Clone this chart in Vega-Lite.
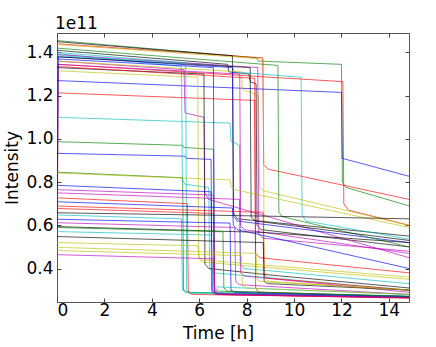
{
"$schema":"https://vega.github.io/schema/vega-lite/v6.json",
"width":352,"height":269,
"autosize":{"type":"none"},
"padding":{"left":57,"top":33,"right":27,"bottom":45},
"title":{"text":"1e11","anchor":"start","frame":"group","fontSize":17,"fontWeight":"normal","font":"DejaVu Sans","color":"#000","offset":1,"baseline":"alphabetic","dx":-2,"dy":14},
"config":{"view":{"stroke":"#555"},"font":"DejaVu Sans"},
"data":{"values":[
{"run":1,"color":"g","time":0,"intensity":1.455e11},{"run":1,"color":"g","time":8.4,"intensity":1.375e11},{"run":1,"color":"g","time":8.5,"intensity":1.36e11},{"run":1,"color":"g","time":12.0,"intensity":1.345e11},{"run":1,"color":"g","time":12.04,"intensity":0.80e11},{"run":1,"color":"g","time":12.2,"intensity":0.775e11},{"run":1,"color":"g","time":14.85,"intensity":0.69e11},
{"run":2,"color":"r","time":0,"intensity":1.44e11},{"run":2,"color":"r","time":8.68,"intensity":1.375e11},{"run":2,"color":"r","time":8.72,"intensity":0.88e11},{"run":2,"color":"r","time":8.9,"intensity":0.86e11},{"run":2,"color":"r","time":14.85,"intensity":0.72e11},
{"run":3,"color":"y","time":0,"intensity":1.437e11},{"run":3,"color":"y","time":8.7,"intensity":1.37e11},{"run":3,"color":"y","time":8.74,"intensity":0.36e11},{"run":3,"color":"y","time":8.9,"intensity":0.34e11},{"run":3,"color":"y","time":14.85,"intensity":0.30e11},
{"run":4,"color":"k","time":0,"intensity":1.41e11},{"run":4,"color":"k","time":7.2,"intensity":1.345e11},{"run":4,"color":"k","time":7.25,"intensity":1.31e11},{"run":4,"color":"k","time":8.1,"intensity":1.30e11},{"run":4,"color":"k","time":8.15,"intensity":1.265e11},{"run":4,"color":"k","time":8.4,"intensity":1.255e11},{"run":4,"color":"k","time":8.44,"intensity":0.60e11},{"run":4,"color":"k","time":8.6,"intensity":0.58e11},{"run":4,"color":"k","time":14.85,"intensity":0.50e11},
{"run":5,"color":"k","time":0,"intensity":1.45e11},{"run":5,"color":"k","time":7.4,"intensity":1.385e11},{"run":5,"color":"k","time":7.44,"intensity":0.66e11},{"run":5,"color":"k","time":7.6,"intensity":0.63e11},{"run":5,"color":"k","time":14.85,"intensity":0.55e11},
{"run":6,"color":"c","time":0,"intensity":1.40e11},{"run":6,"color":"c","time":7.4,"intensity":1.335e11},{"run":6,"color":"c","time":7.45,"intensity":1.31e11},{"run":6,"color":"c","time":10.3,"intensity":1.285e11},{"run":6,"color":"c","time":10.34,"intensity":0.65e11},{"run":6,"color":"c","time":10.5,"intensity":0.62e11},{"run":6,"color":"c","time":14.85,"intensity":0.536e11},
{"run":7,"color":"r","time":0,"intensity":0.46e11},{"run":7,"color":"r","time":0.06,"intensity":1.345e11},{"run":7,"color":"r","time":12.06,"intensity":1.265e11},{"run":7,"color":"r","time":12.1,"intensity":0.70e11},{"run":7,"color":"r","time":12.3,"intensity":0.67e11},{"run":7,"color":"r","time":14.85,"intensity":0.60e11},
{"run":8,"color":"b","time":0,"intensity":1.27e11},{"run":8,"color":"b","time":12.0,"intensity":1.215e11},{"run":8,"color":"b","time":12.03,"intensity":0.91e11},{"run":8,"color":"b","time":14.85,"intensity":0.827e11},
{"run":9,"color":"r","time":0,"intensity":1.213e11},{"run":9,"color":"r","time":8.34,"intensity":1.178e11},{"run":9,"color":"r","time":8.38,"intensity":0.47e11},{"run":9,"color":"r","time":8.55,"intensity":0.45e11},{"run":9,"color":"r","time":14.85,"intensity":0.38e11},
{"run":10,"color":"c","time":0,"intensity":1.10e11},{"run":10,"color":"c","time":7.3,"intensity":1.073e11},{"run":10,"color":"c","time":7.34,"intensity":0.99e11},{"run":10,"color":"c","time":7.7,"intensity":0.97e11},{"run":10,"color":"c","time":7.74,"intensity":0.42e11},{"run":10,"color":"c","time":7.9,"intensity":0.40e11},{"run":10,"color":"c","time":14.85,"intensity":0.33e11},
{"run":11,"color":"g","time":0,"intensity":0.987e11},{"run":11,"color":"g","time":5.3,"intensity":0.97e11},{"run":11,"color":"g","time":5.35,"intensity":0.96e11},{"run":11,"color":"g","time":6.6,"intensity":0.952e11},{"run":11,"color":"g","time":6.65,"intensity":0.31e11},{"run":11,"color":"g","time":6.8,"intensity":0.295e11},{"run":11,"color":"g","time":14.85,"intensity":0.272e11},
{"run":12,"color":"b","time":0,"intensity":0.933e11},{"run":12,"color":"b","time":5.4,"intensity":0.92e11},{"run":12,"color":"b","time":5.45,"intensity":0.91e11},{"run":12,"color":"b","time":6.5,"intensity":0.905e11},{"run":12,"color":"b","time":6.54,"intensity":0.30e11},{"run":12,"color":"b","time":6.7,"intensity":0.285e11},{"run":12,"color":"b","time":14.85,"intensity":0.268e11},
{"run":13,"color":"c","time":0,"intensity":1.395e11},{"run":13,"color":"c","time":5.25,"intensity":1.335e11},{"run":13,"color":"c","time":5.29,"intensity":0.81e11},{"run":13,"color":"c","time":5.4,"intensity":0.79e11},{"run":13,"color":"c","time":6.4,"intensity":0.775e11},{"run":13,"color":"c","time":6.44,"intensity":0.40e11},{"run":13,"color":"c","time":6.6,"intensity":0.38e11},{"run":13,"color":"c","time":14.85,"intensity":0.30e11},
{"run":14,"color":"m","time":0,"intensity":1.36e11},{"run":14,"color":"m","time":5.36,"intensity":1.32e11},{"run":14,"color":"m","time":5.4,"intensity":1.12e11},{"run":14,"color":"m","time":6.2,"intensity":1.10e11},{"run":14,"color":"m","time":6.24,"intensity":0.75e11},{"run":14,"color":"m","time":6.4,"intensity":0.72e11},{"run":14,"color":"m","time":14.85,"intensity":0.45e11},
{"run":15,"color":"y","time":0,"intensity":1.315e11},{"run":15,"color":"y","time":5.94,"intensity":1.285e11},{"run":15,"color":"y","time":5.98,"intensity":0.45e11},{"run":15,"color":"y","time":6.1,"intensity":0.43e11},{"run":15,"color":"y","time":14.85,"intensity":0.35e11},
{"run":16,"color":"k","time":0,"intensity":1.33e11},{"run":16,"color":"k","time":6.2,"intensity":1.30e11},{"run":16,"color":"k","time":6.24,"intensity":0.42e11},{"run":16,"color":"k","time":6.4,"intensity":0.40e11},{"run":16,"color":"k","time":9.0,"intensity":0.37e11},{"run":16,"color":"k","time":14.85,"intensity":0.31e11},
{"run":17,"color":"m","time":0,"intensity":1.345e11},{"run":17,"color":"m","time":7.71,"intensity":1.30e11},{"run":17,"color":"m","time":7.75,"intensity":0.60e11},{"run":17,"color":"m","time":7.9,"intensity":0.58e11},{"run":17,"color":"m","time":14.85,"intensity":0.47e11},
{"run":18,"color":"b","time":0,"intensity":0.56e11},{"run":18,"color":"b","time":0.06,"intensity":1.38e11},{"run":18,"color":"b","time":7.41,"intensity":1.33e11},{"run":18,"color":"b","time":7.45,"intensity":0.64e11},{"run":18,"color":"b","time":7.6,"intensity":0.62e11},{"run":18,"color":"b","time":14.85,"intensity":0.52e11},
{"run":19,"color":"y","time":0,"intensity":1.36e11},{"run":19,"color":"y","time":7.78,"intensity":1.31e11},{"run":19,"color":"y","time":7.82,"intensity":1.23e11},{"run":19,"color":"y","time":8.5,"intensity":1.20e11},{"run":19,"color":"y","time":8.54,"intensity":0.78e11},{"run":19,"color":"y","time":8.7,"intensity":0.76e11},{"run":19,"color":"y","time":14.85,"intensity":0.60e11},
{"run":20,"color":"g","time":0,"intensity":1.42e11},{"run":20,"color":"g","time":9.32,"intensity":1.34e11},{"run":20,"color":"g","time":9.36,"intensity":0.66e11},{"run":20,"color":"g","time":9.5,"intensity":0.64e11},{"run":20,"color":"g","time":14.85,"intensity":0.50e11},
{"run":21,"color":"m","time":0,"intensity":1.39e11},{"run":21,"color":"m","time":8.47,"intensity":1.33e11},{"run":21,"color":"m","time":8.51,"intensity":0.56e11},{"run":21,"color":"m","time":8.7,"intensity":0.54e11},{"run":21,"color":"m","time":14.85,"intensity":0.48e11},
{"run":22,"color":"r","time":0,"intensity":1.335e11},{"run":22,"color":"r","time":8.34,"intensity":1.28e11},{"run":22,"color":"r","time":8.38,"intensity":0.31e11},{"run":22,"color":"r","time":8.5,"intensity":0.29e11},{"run":22,"color":"r","time":14.85,"intensity":0.27e11},
{"run":23,"color":"k","time":0,"intensity":1.38e11},{"run":23,"color":"k","time":8.15,"intensity":1.33e11},{"run":23,"color":"k","time":8.19,"intensity":0.64e11},{"run":23,"color":"k","time":8.35,"intensity":0.62e11},{"run":23,"color":"k","time":14.85,"intensity":0.53e11},
{"run":24,"color":"c","time":0,"intensity":1.385e11},{"run":24,"color":"c","time":5.43,"intensity":1.35e11},{"run":24,"color":"c","time":5.47,"intensity":0.30e11},{"run":24,"color":"c","time":5.6,"intensity":0.285e11},{"run":24,"color":"c","time":14.85,"intensity":0.27e11},
{"run":25,"color":"b","time":0,"intensity":1.37e11},{"run":25,"color":"b","time":6.6,"intensity":1.33e11},{"run":25,"color":"b","time":6.64,"intensity":0.30e11},{"run":25,"color":"b","time":6.8,"intensity":0.285e11},{"run":25,"color":"b","time":14.85,"intensity":0.265e11},
{"run":26,"color":"g","time":0,"intensity":0.846e11},{"run":26,"color":"g","time":5.3,"intensity":0.82e11},{"run":26,"color":"g","time":5.34,"intensity":0.30e11},{"run":26,"color":"g","time":5.5,"intensity":0.29e11},{"run":26,"color":"g","time":14.85,"intensity":0.27e11},
{"run":27,"color":"y","time":0,"intensity":0.842e11},{"run":27,"color":"y","time":7.3,"intensity":0.81e11},{"run":27,"color":"y","time":7.34,"intensity":0.78e11},{"run":27,"color":"y","time":7.5,"intensity":0.765e11},{"run":27,"color":"y","time":14.85,"intensity":0.59e11},
{"run":28,"color":"b","time":0,"intensity":0.785e11},{"run":28,"color":"b","time":6.5,"intensity":0.755e11},{"run":28,"color":"b","time":6.54,"intensity":0.29e11},{"run":28,"color":"b","time":6.7,"intensity":0.28e11},{"run":28,"color":"b","time":14.85,"intensity":0.265e11},
{"run":29,"color":"m","time":0,"intensity":0.765e11},{"run":29,"color":"m","time":6.6,"intensity":0.74e11},{"run":29,"color":"m","time":6.64,"intensity":0.30e11},{"run":29,"color":"m","time":6.8,"intensity":0.285e11},{"run":29,"color":"m","time":14.85,"intensity":0.27e11},
{"run":30,"color":"m","time":0,"intensity":0.75e11},{"run":30,"color":"m","time":7.7,"intensity":0.72e11},{"run":30,"color":"m","time":7.74,"intensity":0.38e11},{"run":30,"color":"m","time":7.9,"intensity":0.365e11},{"run":30,"color":"m","time":14.85,"intensity":0.29e11},
{"run":31,"color":"r","time":0,"intensity":0.727e11},{"run":31,"color":"r","time":5.5,"intensity":0.70e11},{"run":31,"color":"r","time":5.54,"intensity":0.29e11},{"run":31,"color":"r","time":5.7,"intensity":0.28e11},{"run":31,"color":"r","time":14.85,"intensity":0.265e11},
{"run":32,"color":"b","time":0,"intensity":0.709e11},{"run":32,"color":"b","time":7.4,"intensity":0.68e11},{"run":32,"color":"b","time":7.44,"intensity":0.60e11},{"run":32,"color":"b","time":7.6,"intensity":0.58e11},{"run":32,"color":"b","time":14.85,"intensity":0.40e11},
{"run":33,"color":"r","time":0,"intensity":0.689e11},{"run":33,"color":"r","time":8.7,"intensity":0.66e11},{"run":33,"color":"r","time":8.74,"intensity":0.37e11},{"run":33,"color":"r","time":8.9,"intensity":0.355e11},{"run":33,"color":"r","time":14.85,"intensity":0.30e11},
{"run":34,"color":"r","time":0,"intensity":0.678e11},{"run":34,"color":"r","time":6.6,"intensity":0.655e11},{"run":34,"color":"r","time":6.64,"intensity":0.29e11},{"run":34,"color":"r","time":6.8,"intensity":0.28e11},{"run":34,"color":"r","time":14.85,"intensity":0.262e11},
{"run":35,"color":"k","time":0,"intensity":0.658e11},{"run":35,"color":"k","time":7.5,"intensity":0.645e11},{"run":35,"color":"k","time":14.85,"intensity":0.63e11},
{"run":36,"color":"c","time":0,"intensity":0.648e11},{"run":36,"color":"c","time":5.25,"intensity":0.63e11},{"run":36,"color":"c","time":5.29,"intensity":0.30e11},{"run":36,"color":"c","time":5.4,"intensity":0.29e11},{"run":36,"color":"c","time":14.85,"intensity":0.272e11},
{"run":37,"color":"b","time":0,"intensity":0.628e11},{"run":37,"color":"b","time":7.3,"intensity":0.61e11},{"run":37,"color":"b","time":7.34,"intensity":0.30e11},{"run":37,"color":"b","time":7.5,"intensity":0.29e11},{"run":37,"color":"b","time":14.85,"intensity":0.27e11},
{"run":38,"color":"m","time":0,"intensity":0.612e11},{"run":38,"color":"m","time":7.5,"intensity":0.59e11},{"run":38,"color":"m","time":7.54,"intensity":0.34e11},{"run":38,"color":"m","time":7.7,"intensity":0.325e11},{"run":38,"color":"m","time":14.85,"intensity":0.28e11},
{"run":39,"color":"k","time":0,"intensity":0.594e11},{"run":39,"color":"k","time":8.7,"intensity":0.567e11},{"run":39,"color":"k","time":14.85,"intensity":0.52e11},
{"run":40,"color":"g","time":0,"intensity":0.59e11},{"run":40,"color":"g","time":7.0,"intensity":0.57e11},{"run":40,"color":"g","time":7.04,"intensity":0.31e11},{"run":40,"color":"g","time":7.2,"intensity":0.295e11},{"run":40,"color":"g","time":14.85,"intensity":0.27e11},
{"run":41,"color":"c","time":0,"intensity":0.571e11},{"run":41,"color":"c","time":6.5,"intensity":0.555e11},{"run":41,"color":"c","time":6.54,"intensity":0.33e11},{"run":41,"color":"c","time":6.7,"intensity":0.315e11},{"run":41,"color":"c","time":14.85,"intensity":0.28e11},
{"run":42,"color":"k","time":0,"intensity":0.548e11},{"run":42,"color":"k","time":8.7,"intensity":0.52e11},{"run":42,"color":"k","time":8.74,"intensity":0.34e11},{"run":42,"color":"k","time":8.9,"intensity":0.33e11},{"run":42,"color":"k","time":14.85,"intensity":0.30e11},
{"run":43,"color":"y","time":0,"intensity":0.52e11},{"run":43,"color":"y","time":5.95,"intensity":0.505e11},{"run":43,"color":"y","time":6.0,"intensity":0.45e11},{"run":43,"color":"y","time":6.1,"intensity":0.44e11},{"run":43,"color":"y","time":14.85,"intensity":0.36e11},
{"run":44,"color":"y","time":0,"intensity":0.498e11},{"run":44,"color":"y","time":8.4,"intensity":0.47e11},{"run":44,"color":"y","time":8.44,"intensity":0.35e11},{"run":44,"color":"y","time":8.6,"intensity":0.34e11},{"run":44,"color":"y","time":14.85,"intensity":0.30e11},
{"run":45,"color":"y","time":0,"intensity":0.483e11},{"run":45,"color":"y","time":7.78,"intensity":0.46e11},{"run":45,"color":"y","time":7.82,"intensity":0.32e11},{"run":45,"color":"y","time":8.0,"intensity":0.31e11},{"run":45,"color":"y","time":14.85,"intensity":0.28e11},
{"run":46,"color":"m","time":0,"intensity":0.464e11},{"run":46,"color":"m","time":6.6,"intensity":0.445e11},{"run":46,"color":"m","time":6.64,"intensity":0.29e11},{"run":46,"color":"m","time":6.8,"intensity":0.28e11},{"run":46,"color":"m","time":14.85,"intensity":0.265e11}
]},
"layer":[
{"mark":{"type":"line","strokeWidth":1,"opacity":0.65,"clip":true},
 "encoding":{
  "x":{"field":"time","type":"quantitative","scale":{"domain":[0,14.85],"nice":false,"zero":false},
       "axis":{"orient":"bottom","values":[0,2,4,6,8,10,12,14],"title":"Time [h]","titleFontSize":17,"titleFontWeight":"normal","titleColor":"#000","titlePadding":7,"titleX":161,"labelFontSize":17,"labelColor":"#000","labelPadding":4,"tickSize":-4,"tickColor":"#444","domain":false,"grid":false}},
  "y":{"field":"intensity","type":"quantitative","scale":{"domain":[2.45e10,1.49e11],"nice":false,"zero":false},
       "axis":{"orient":"left","values":[4e10,6e10,8e10,1e11,1.2e11,1.4e11],"labelExpr":"format(datum.value/1e11,'.1f')","title":"Intensity","titleFontSize":17,"titleFontWeight":"normal","titleColor":"#000","titlePadding":4,"labelFontSize":17,"labelColor":"#000","labelPadding":8,"tickSize":-4,"tickColor":"#444","domain":false,"grid":false}},
  "color":{"field":"color","type":"nominal","scale":{"domain":["b","g","r","c","m","y","k"],"range":["#0000ff","#008000","#ff0000","#00bfbf","#bf00bf","#bfbf00","#000000"]},"legend":null},
  "detail":{"field":"run","type":"nominal"}
 }},
{"mark":{"type":"line","opacity":0},
 "encoding":{
  "x":{"field":"time","type":"quantitative","axis":{"orient":"top","values":[0,2,4,6,8,10,12,14],"labels":false,"title":null,"tickSize":-4,"tickColor":"#444","domain":false,"grid":false}},
  "y":{"field":"intensity","type":"quantitative","axis":{"orient":"right","values":[4e10,6e10,8e10,1e11,1.2e11,1.4e11],"labels":false,"title":null,"tickSize":-4,"tickColor":"#444","domain":false,"grid":false}},
  "detail":{"field":"run","type":"nominal"}
 }}
],
"resolve":{"axis":{"x":"independent","y":"independent"}}
}
